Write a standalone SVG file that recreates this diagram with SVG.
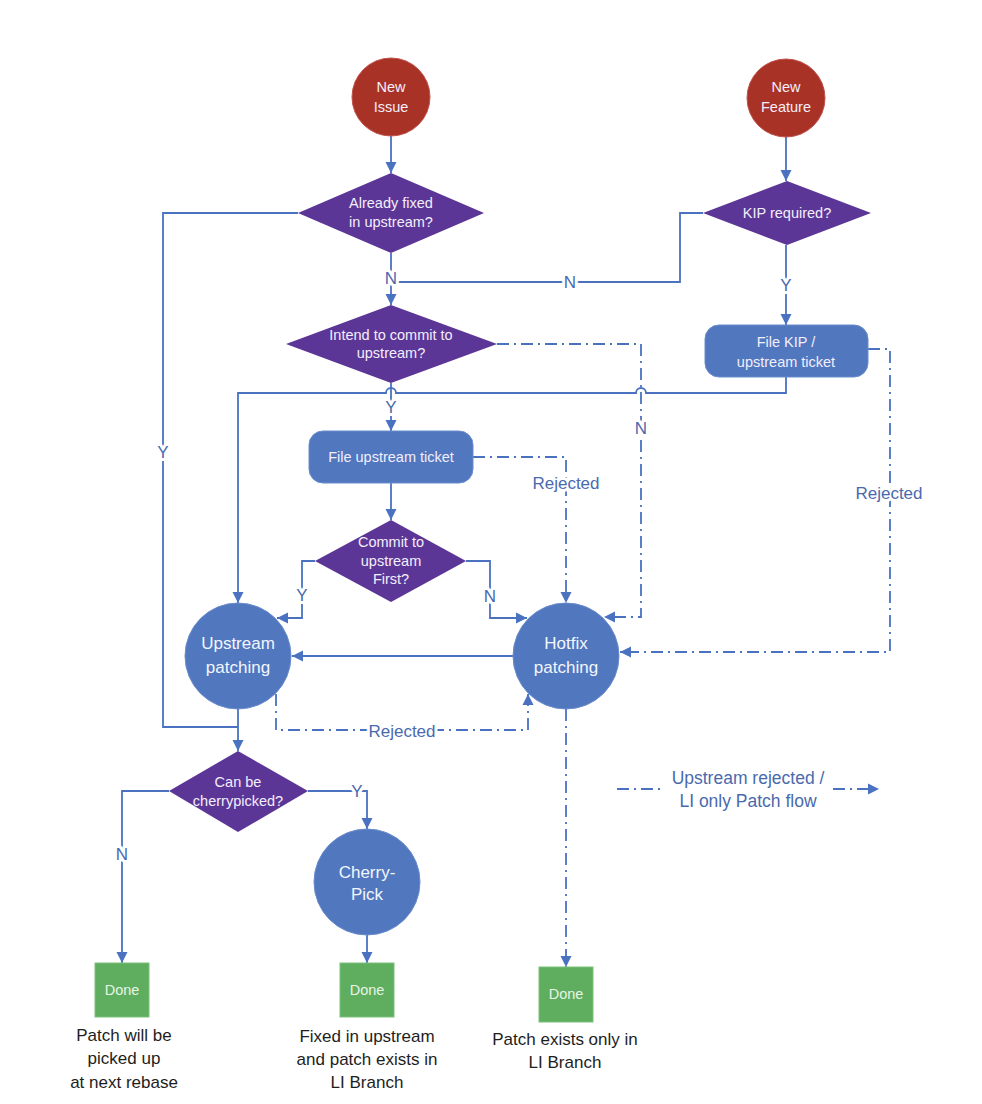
<svg xmlns="http://www.w3.org/2000/svg" width="982" height="1104" viewBox="0 0 982 1104">
<style>
  .bg{fill:#ffffff}
  .start{fill:#a93226;stroke:#c0504a;stroke-width:1}
  .dec{fill:#5c3696}
  .proc{fill:#5177bf;stroke:#6a8ccc;stroke-width:1}
  .done{fill:#5fae5f;stroke:#7cc07c;stroke-width:1}
  .nt{font-family:"Liberation Sans",Arial,sans-serif;font-size:14.5px;fill:#f3eefc;text-anchor:middle}
  .bt{font-family:"Liberation Sans",Arial,sans-serif;font-size:17px;fill:#f3f6fc;text-anchor:middle}
  .dt{font-family:"Liberation Sans",Arial,sans-serif;font-size:14.5px;fill:#e6f5e6;text-anchor:middle}
  .cap{font-family:"Liberation Sans",Arial,sans-serif;font-size:17px;fill:#1e1e1e;text-anchor:middle}
  .lbl{font-family:"Liberation Sans",Arial,sans-serif;font-size:17px;fill:#4a6aae;text-anchor:middle;stroke:#ffffff;stroke-width:6px;paint-order:stroke;stroke-linejoin:round}
  .leg{font-family:"Liberation Sans",Arial,sans-serif;font-size:17.5px;fill:#4a6aae;text-anchor:middle}
  .ln{fill:none;stroke:#4a72c0;stroke-width:1.8}
  .dd{fill:none;stroke:#4a72c0;stroke-width:1.8;stroke-dasharray:12 5 2 5}
</style>
<defs>
  <marker id="ah" markerUnits="userSpaceOnUse" markerWidth="12" markerHeight="12" refX="11" refY="6" orient="auto">
    <path d="M0,0.5 L11,6 L0,11.5 z" fill="#4a72c0"/>
  </marker>
</defs>
<rect class="bg" x="0" y="0" width="982" height="1104"/>

<g id="connectors">
  <!-- New Issue -> Already fixed -->
  <path class="ln" d="M391,136 V173" marker-end="url(#ah)"/>
  <!-- New Feature -> KIP -->
  <path class="ln" d="M786,137 V181" marker-end="url(#ah)"/>
  <!-- Already fixed N -> Intend -->
  <path class="ln" d="M391,253 V305" marker-end="url(#ah)"/>
  <!-- KIP N -> join -->
  <path class="ln" d="M703,213 H680 V282 H391"/>
  <!-- KIP Y -> File KIP -->
  <path class="ln" d="M786,245 V325" marker-end="url(#ah)"/>
  <!-- File KIP -> Upstream patching (with hops) -->
  <path class="ln" d="M786,377 V393 H646 A5,5 0 0 0 636,393 H396 A5,5 0 0 0 386,393 H238 V603" marker-end="url(#ah)"/>
  <!-- Intend Y -> File upstream ticket -->
  <path class="ln" d="M391,383 V431" marker-end="url(#ah)"/>
  <!-- Intend N -> Hotfix (dash-dot) -->
  <path class="dd" d="M497,344 H641 V617 H604" marker-end="url(#ah)"/>
  <!-- File upstream ticket -> Commit -->
  <path class="ln" d="M391,483 V520" marker-end="url(#ah)"/>
  <!-- File upstream ticket Rejected -> Hotfix -->
  <path class="dd" d="M473,457 H566 V603" marker-end="url(#ah)"/>
  <!-- File KIP Rejected -> Hotfix -->
  <path class="dd" d="M868,349 H890 V652 H620" marker-end="url(#ah)"/>
  <!-- Commit Y -> Upstream -->
  <path class="ln" d="M315,561 H302 V618 H277" marker-end="url(#ah)"/>
  <!-- Commit N -> Hotfix -->
  <path class="ln" d="M466,561 H490 V618 H527" marker-end="url(#ah)"/>
  <!-- Hotfix -> Upstream -->
  <path class="ln" d="M513,656 H292" marker-end="url(#ah)"/>
  <!-- Upstream Rejected -> Hotfix -->
  <path class="dd" d="M276,694 V730 H528 V694" marker-end="url(#ah)"/>
  <!-- Already fixed Y -> left -> join -->
  <path class="ln" d="M298,213 H163 V727 H238"/>
  <!-- Upstream -> Can be cherrypicked -->
  <path class="ln" d="M238,709 V751" marker-end="url(#ah)"/>
  <!-- Can be N -> Done 1 -->
  <path class="ln" d="M169,791 H122 V963" marker-end="url(#ah)"/>
  <!-- Can be Y -> Cherry-Pick -->
  <path class="ln" d="M308,791 H367 V829" marker-end="url(#ah)"/>
  <!-- Cherry-Pick -> Done 2 -->
  <path class="ln" d="M367,935 V963" marker-end="url(#ah)"/>
  <!-- Hotfix -> Done 3 -->
  <path class="dd" d="M566,709 V967" marker-end="url(#ah)"/>

  <!-- labels -->
  <text class="lbl" x="391" y="284">N</text>
  <text class="lbl" x="570" y="288">N</text>
  <text class="lbl" x="786" y="291">Y</text>
  <text class="lbl" x="391" y="413">Y</text>
  <text class="lbl" x="641" y="434">N</text>
  <text class="lbl" x="566" y="489">Rejected</text>
  <text class="lbl" x="889" y="499">Rejected</text>
  <text class="lbl" x="302" y="601">Y</text>
  <text class="lbl" x="490" y="602">N</text>
  <text class="lbl" x="163" y="458">Y</text>
  <text class="lbl" x="402" y="737">Rejected</text>
  <text class="lbl" x="122" y="860">N</text>
  <text class="lbl" x="357" y="797">Y</text>
</g>

<g id="new-issue">
  <circle class="start" cx="391" cy="97" r="39"/>
  <text class="nt" x="391" y="92">New</text>
  <text class="nt" x="391" y="112">Issue</text>
</g>
<g id="new-feature">
  <circle class="start" cx="786" cy="98" r="39"/>
  <text class="nt" x="786" y="92">New</text>
  <text class="nt" x="786" y="112">Feature</text>
</g>
<g id="already-fixed">
  <polygon class="dec" points="391,173 484,213 391,253 298,213"/>
  <text class="nt" x="391" y="208">Already fixed</text>
  <text class="nt" x="391" y="227">in upstream?</text>
</g>
<g id="kip-required">
  <polygon class="dec" points="787,181 871,213 787,245 703,213"/>
  <text class="nt" x="787" y="218">KIP required?</text>
</g>
<g id="intend-commit">
  <polygon class="dec" points="391,305 497,344 391,383 286,344"/>
  <text class="nt" x="391" y="340">Intend to commit to</text>
  <text class="nt" x="391" y="358">upstream?</text>
</g>
<g id="file-kip">
  <rect class="proc" x="705" y="325" width="163" height="52" rx="14"/>
  <text class="nt" x="786" y="347">File KIP /</text>
  <text class="nt" x="786" y="367">upstream ticket</text>
</g>
<g id="file-upstream-ticket">
  <rect class="proc" x="309" y="431" width="164" height="52" rx="14"/>
  <text class="nt" x="391" y="462">File upstream ticket</text>
</g>
<g id="commit-first">
  <polygon class="dec" points="391,520 466,561 391,602 315,561"/>
  <text class="nt" x="391" y="547">Commit to</text>
  <text class="nt" x="391" y="566">upstream</text>
  <text class="nt" x="391" y="584">First?</text>
</g>
<g id="upstream-patching">
  <circle class="proc" cx="238" cy="656" r="53"/>
  <text class="bt" x="238" y="649">Upstream</text>
  <text class="bt" x="238" y="673">patching</text>
</g>
<g id="hotfix-patching">
  <circle class="proc" cx="566" cy="656" r="53"/>
  <text class="bt" x="566" y="649">Hotfix</text>
  <text class="bt" x="566" y="673">patching</text>
</g>
<g id="can-be-cherrypicked">
  <polygon class="dec" points="238,751 308,791 238,832 169,791"/>
  <text class="nt" x="238" y="787">Can be</text>
  <text class="nt" x="238" y="806">cherrypicked?</text>
</g>
<g id="cherry-pick">
  <circle class="proc" cx="367" cy="882" r="53"/>
  <text class="bt" x="367" y="878">Cherry-</text>
  <text class="bt" x="367" y="900">Pick</text>
</g>
<g id="done-1">
  <rect class="done" x="95" y="963" width="54" height="54"/>
  <text class="dt" x="122" y="995">Done</text>
  <text class="cap" x="124" y="1041">Patch will be</text>
  <text class="cap" x="124" y="1064">picked up</text>
  <text class="cap" x="124" y="1088">at next rebase</text>
</g>
<g id="done-2">
  <rect class="done" x="340" y="963" width="54" height="54"/>
  <text class="dt" x="367" y="995">Done</text>
  <text class="cap" x="367" y="1042">Fixed in upstream</text>
  <text class="cap" x="367" y="1065">and patch exists in</text>
  <text class="cap" x="367" y="1088">LI Branch</text>
</g>
<g id="done-3">
  <rect class="done" x="539" y="967" width="54" height="55"/>
  <text class="dt" x="566" y="999">Done</text>
  <text class="cap" x="565" y="1045">Patch exists only in</text>
  <text class="cap" x="565" y="1068">LI Branch</text>
</g>
<g id="legend">
  <path class="dd" d="M617,789 H665"/>
  <text class="leg" x="748" y="784">Upstream rejected /</text>
  <text class="leg" x="748" y="807">LI only Patch flow</text>
  <path class="dd" d="M833,789 H879" marker-end="url(#ah)"/>
</g>
</svg>
